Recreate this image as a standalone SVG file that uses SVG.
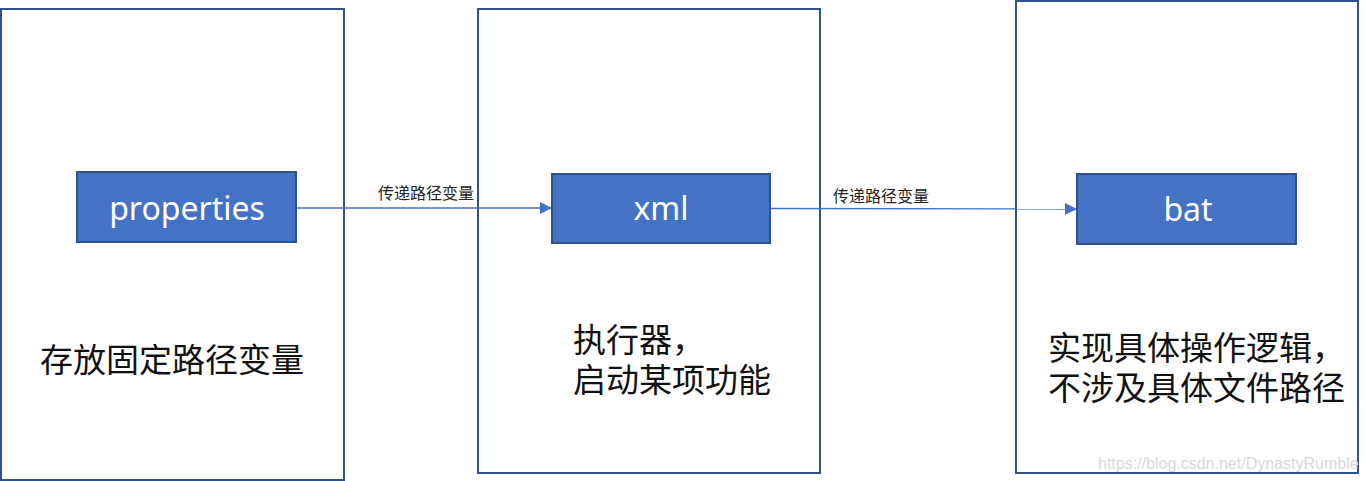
<svg xmlns="http://www.w3.org/2000/svg" width="1366" height="481" viewBox="0 0 1366 481">
<defs>
<style>
.outer{fill:#ffffff;stroke:#2F528F;stroke-width:2}
.inner{fill:#4472C4;stroke:#2F528F;stroke-width:2}
.lbl{font-family:"Noto Sans","Noto Sans CJK SC",sans-serif;font-size:32px;fill:#ffffff;text-anchor:middle}
.desc{font-family:"Noto Sans CJK SC","Noto Sans",sans-serif;font-size:33px;fill:#111111}
.edge{stroke:#4472C4;stroke-width:1.3;fill:none;marker-end:url(#arr)}
.elbl{font-family:"Noto Sans CJK SC","Noto Sans",sans-serif;font-size:16px;fill:#222222}
.wm{font-family:"Liberation Sans",sans-serif;font-size:16px;fill:#d8d8d8}
</style>
<marker id="arr" viewBox="0 0 10 10" refX="10" refY="5" markerWidth="12" markerHeight="12" markerUnits="userSpaceOnUse" orient="auto">
<path d="M0,0 L10,5 L0,10 z" fill="#4472C4"/>
</marker>
</defs>
<rect width="1366" height="481" fill="#ffffff"/>
<g id="col-properties">
<rect class="outer" x="1" y="9" width="343" height="471"/>
</g>
<g id="col-xml">
<rect class="outer" x="478" y="9" width="342" height="464"/>
</g>
<g id="col-bat">
<rect class="outer" x="1016" y="1" width="342" height="472"/>
</g>
<g id="connectors">
<line class="edge" x1="296" y1="208" x2="552" y2="208"/>
<text class="elbl" x="378" y="199">传递路径变量</text>
<line class="edge" x1="770" y1="208.5" x2="1077" y2="209"/>
<text class="elbl" x="833" y="202">传递路径变量</text>
</g>
<g id="node-properties">
<rect class="inner" x="77" y="172" width="219" height="70"/>
<text class="lbl" x="187" y="220">properties</text>
<text class="desc" x="40" y="372">存放固定路径变量</text>
</g>
<g id="node-xml">
<rect class="inner" x="552" y="174" width="218" height="69"/>
<text class="lbl" x="661" y="220">xml</text>
<text class="desc" x="573" y="352">执行器，<tspan x="573" dy="40">启动某项功能</tspan></text>
</g>
<g id="node-bat">
<rect class="inner" x="1077" y="174" width="219" height="70"/>
<text class="lbl" x="1188" y="221">bat</text>
<text class="desc" x="1048" y="360">实现具体操作逻辑，<tspan x="1048" dy="40">不涉及具体文件路径</tspan></text>
</g>
<text class="wm" x="1098" y="469">https://blog.csdn.net/DynastyRumble</text>
</svg>
